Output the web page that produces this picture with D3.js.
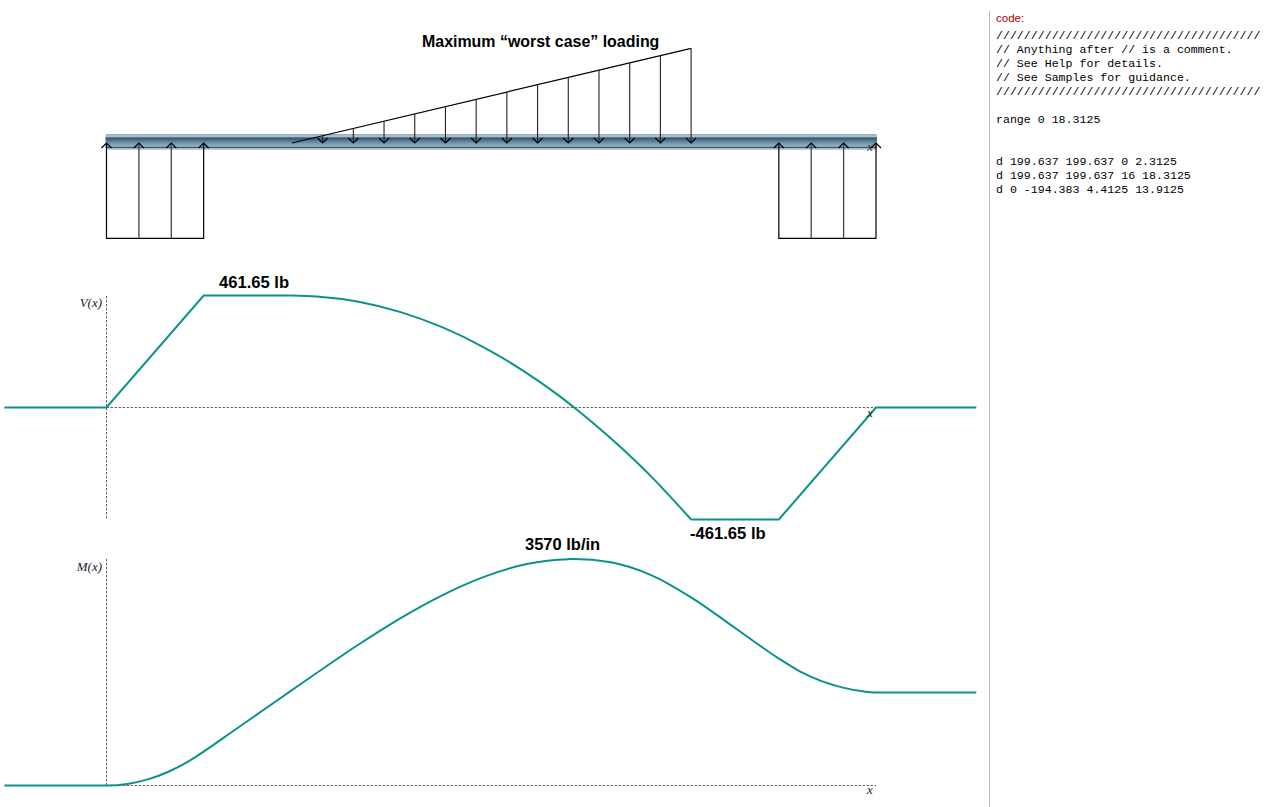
<!DOCTYPE html>
<html><head><meta charset="utf-8">
<script src="https://cdnjs.cloudflare.com/ajax/libs/d3/7.8.5/d3.min.js"></script>
<style>html,body{margin:0;padding:0;background:#fff;overflow:hidden}svg{display:block}</style>
</head><body><svg id="c" width="1275" height="807"></svg>
<script>
// Data
const beamRange = [0, 18.3125];
const supportLeftX = [0, 0.7708, 1.5417, 2.3125];
const supportRightX = [16, 16.7708, 17.5417, 18.3125];
const supportLoad = 199.637;
const triangleX = [4.4125, 13.9125];
const triangleLoad = [0, 194.383];
const arrowX = [5.1433, 5.8741, 6.6048, 7.3356, 8.0664, 8.7971, 9.5279, 10.2587, 10.9894, 11.7202, 12.451, 13.1817, 13.9125];
const arrowLoad = [14.95, 29.9, 44.86, 59.81, 74.76, 89.71, 104.67, 119.62, 134.57, 149.52, 164.48, 179.43, 194.383];
const shearX = [-2.43, 0, 2.3125, 4.4125, 5, 6, 7, 8, 9, 10, 11, 11.13, 12, 13, 13.9125, 16, 18.3125, 20.7];
const shearV = [0, 0, 461.65, 461.65, 458, 436, 393, 330, 246, 142, 18, 0, -127, -291, -461.65, -461.65, 0, 0];
const momentX = [-2.43, 0, 0.5, 1, 1.5, 2, 2.3125, 3, 4, 4.4125, 5, 6, 7, 8, 9, 10, 11, 11.13, 12, 13, 13.9125, 15, 16, 16.5, 17, 17.5, 18, 18.3125, 20.7];
const momentM = [0, 0, 25, 100, 225, 399, 534, 851, 1313, 1503, 1773, 2222, 2639, 3002, 3293, 3490, 3568, 3570, 3518, 3305, 2965, 2463, 2001, 1799, 1650, 1547, 1485, 1467, 1467];
const codeLines = [
 "//////////////////////////////////////",
 "// Anything after // is a comment.",
 "// See Help for details.",
 "// See Samples for guidance.",
 "//////////////////////////////////////",
 "",
 "range 0 18.3125",
 "",
 "",
 "d 199.637 199.637 0 2.3125",
 "d 199.637 199.637 16 18.3125",
 "d 0 -194.383 4.4125 13.9125"
];
const svg = d3.select("#c");
const teal = "#0b9289", sans = "'Liberation Sans',Arial,sans-serif", serif = "'Liberation Serif','Times New Roman',serif";
const x = d3.scaleLinear().domain(beamRange).range([106.5, 876]);
const yV = d3.scaleLinear().domain([-461.65, 461.65]).range([519.5, 295.5]);
const yM = d3.scaleLinear().domain([0, 3570]).range([785.5, 559]);
const yUp = d3.scaleLinear().domain([0, supportLoad]).range([143, 238.3]);
const yDown = d3.scaleLinear().domain([0, 194.383]).range([143, 48.3]);

// beam
const defs = svg.append("defs");
const g = defs.append("linearGradient").attr("id","beam").attr("x1",0).attr("x2",0).attr("y1",0).attr("y2",1);
[[0,"#86a4b6"],[0.07,"#a4bccb"],[0.2,"#a9c0cf"],[0.24,"#38566c"],[0.3,"#3f5f78"],[0.55,"#6d8fa6"],[0.8,"#98b4c6"],[0.83,"#40596c"],[0.89,"#40596c"],[0.92,"#a8c0cf"],[1,"#7d9bae"]]
 .forEach(s => g.append("stop").attr("offset",s[0]).attr("stop-color",s[1]));
svg.append("rect").attr("x",x(0)-1).attr("y",134).attr("width",x(18.3125)-x(0)+2).attr("height",15.5).attr("rx",1.5).attr("fill","url(#beam)");

// supports
function blockPath(xs){
  const l = d3.line().x(d=>x(d[0])).y(d=>yUp(d[1]));
  const a = xs[0], b = xs[xs.length-1];
  return l([[a,0],[a,supportLoad],[b,supportLoad],[b,0]]);
}
const ink = "#000";
[supportLeftX, supportRightX].forEach(xs=>{
  svg.append("path").attr("d",blockPath(xs)).attr("fill","none").attr("stroke",ink).attr("stroke-width",1.2);
  svg.selectAll(null).data(xs.slice(1,-1)).join("line")
    .attr("x1",d=>x(d)).attr("x2",d=>x(d)).attr("y1",yUp(0)).attr("y2",yUp(supportLoad))
    .attr("stroke","#444").attr("stroke-width",1.3);
  svg.selectAll(null).data(xs).join("path")
    .attr("d",d=>{const p=x(d),t=yUp(0);return `M${p-5},${t+5}L${p},${t}L${p+5},${t+5}`;})
    .attr("fill","none").attr("stroke",ink).attr("stroke-width",1.2);
});
// triangular load
svg.append("path").attr("d",d3.line().x(d=>x(d[0])).y(d=>yDown(d[1]))(
   [[triangleX[0],triangleLoad[0]],[triangleX[1],triangleLoad[1]]]))
   .attr("fill","none").attr("stroke",ink).attr("stroke-width",1.2);
svg.selectAll(null).data(d3.zip(arrowX,arrowLoad)).join("line")
   .attr("x1",d=>x(d[0])).attr("x2",d=>x(d[0])).attr("y1",d=>yDown(d[1])).attr("y2",yDown(0))
   .attr("stroke","#222").attr("stroke-width",1.1);
svg.selectAll(null).data(arrowX).join("path")
   .attr("d",d=>{const p=x(d),t=yDown(0);return `M${p-5},${t-5}L${p},${t}L${p+5},${t-5}`;})
   .attr("fill","none").attr("stroke",ink).attr("stroke-width",1.2);

function label(s,px,py,o={}){
  return svg.append("text").attr("x",px).attr("y",py).text(s)
   .attr("font-family",o.f||sans).attr("font-size",o.s||15).attr("font-weight",o.w||"normal")
   .attr("font-style",o.i||"normal").attr("fill",o.c||"#000").attr("text-anchor",o.a||"start");
}
label("Maximum “worst case” loading",422,47,{w:"bold",s:15.95});
label("x",867,151,{f:serif,i:"italic",s:13,c:"#334"});
// axes
function dash(x1,y1,x2,y2){svg.append("line").attr("x1",x1).attr("y1",y1).attr("x2",x2).attr("y2",y2)
  .attr("stroke","#666").attr("stroke-width",1).attr("stroke-dasharray","2.5,1.5");}
dash(106.5,296,106.5,519); dash(106.5,407.5,876,407.5);
dash(106.5,559,106.5,786); dash(106.5,785.5,876,785.5);
const curve = (yy)=>d3.line().x(d=>x(d[0])).y(d=>yy(d[1])).curve(d3.curveMonotoneX);
svg.append("path").attr("d",d3.line().x(d=>x(d[0])).y(d=>yV(d[1]))(d3.zip(shearX.slice(0,4),shearV.slice(0,4))))
  .attr("fill","none").attr("stroke",teal).attr("stroke-width",2);
svg.append("path").attr("d",curve(yV)(d3.zip(shearX.slice(3,15),shearV.slice(3,15))))
  .attr("fill","none").attr("stroke",teal).attr("stroke-width",2);
svg.append("path").attr("d",d3.line().x(d=>x(d[0])).y(d=>yV(d[1]))(d3.zip(shearX.slice(14),shearV.slice(14))))
  .attr("fill","none").attr("stroke",teal).attr("stroke-width",2);
svg.append("path").attr("d",curve(yM)(d3.zip(momentX,momentM)))
  .attr("fill","none").attr("stroke",teal).attr("stroke-width",2);
label("461.65 lb",219,288,{w:"bold",s:16.6});
label("-461.65 lb",690,539,{w:"bold",s:16.6});
label("3570 lb/in",525,550,{w:"bold",s:16.5});
label("V(x)",102,307,{f:serif,i:"italic",s:13,a:"end",c:"#223"});
label("M(x)",102,571,{f:serif,i:"italic",s:13,a:"end",c:"#223"});
label("x",867,417,{f:serif,i:"italic",s:13,c:"#223"});
label("x",867,794,{f:serif,i:"italic",s:13,c:"#223"});
// code panel
svg.append("line").attr("x1",989.5).attr("x2",989.5).attr("y1",11).attr("y2",807).attr("stroke","#bbb").attr("stroke-width",1);
label("code:",996,22,{s:11.5,c:"#b00"});
svg.selectAll(null).data(codeLines).join("text")
  .attr("x",996).attr("y",(d,i)=>39+i*14).text(d=>d)
  .attr("font-family","'Liberation Mono','Courier New',monospace").attr("font-size",11.6).attr("fill","#000");
</script></body></html>
